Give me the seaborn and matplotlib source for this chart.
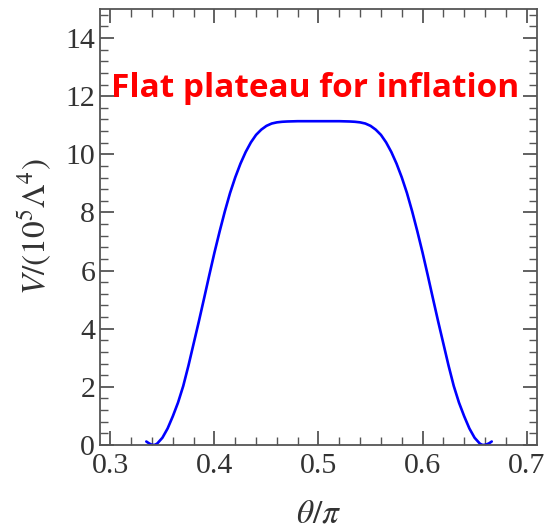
import numpy as np
import pandas as pd
import matplotlib
matplotlib.use("Agg")
import matplotlib.pyplot as plt
from matplotlib.ticker import MultipleLocator
import seaborn as sns

# Potential V(theta) in units of 10^5 Lambda^4, theta in units of pi
theta_left = [0.3345, 0.3370, 0.3390, 0.3410, 0.3430, 0.345, 0.350, 0.355, 0.360, 0.365,
              0.370, 0.375, 0.380, 0.385, 0.390, 0.395, 0.400, 0.405, 0.410, 0.415,
              0.420, 0.425, 0.430, 0.435, 0.440, 0.445, 0.450, 0.455, 0.460, 0.465,
              0.470]
v_left = [0.12, 0.06, 0.02, 0.00, 0.01, 0.05, 0.25, 0.57, 0.99, 1.46,
          2.03, 2.73, 3.49, 4.25, 5.04, 5.84, 6.62, 7.35, 8.04, 8.67,
          9.21, 9.68, 10.08, 10.41, 10.67, 10.85, 10.98, 11.06, 11.10, 11.12,
          11.13]

theta_mid = [0.480, 0.490, 0.500, 0.510, 0.520]
v_mid = [11.14, 11.14, 11.14, 11.14, 11.14]

theta_right = [0.530, 0.535, 0.540, 0.545, 0.550, 0.555, 0.560, 0.565, 0.570, 0.575,
               0.580, 0.585, 0.590, 0.595, 0.600, 0.605, 0.610, 0.615, 0.620, 0.625,
               0.630, 0.635, 0.640, 0.645, 0.650, 0.655, 0.657, 0.659, 0.6615, 0.6640,
               0.6665]
v_right = [11.13, 11.12, 11.10, 11.06, 10.98, 10.85, 10.67, 10.41, 10.08, 9.68,
           9.21, 8.67, 8.04, 7.35, 6.62, 5.84, 5.04, 4.25, 3.49, 2.73,
           2.03, 1.46, 0.99, 0.57, 0.25, 0.05, 0.01, 0.00, 0.02, 0.06,
           0.12]

x_ticks = [0.3, 0.4, 0.5, 0.6, 0.7]
y_ticks = [0, 2, 4, 6, 8, 10, 12, 14]

df = pd.DataFrame({
    "theta": theta_left + theta_mid + theta_right,
    "V": v_left + v_mid + v_right,
})

sns.set_theme(style="ticks")
plt.rcParams["font.family"] = ["Liberation Serif", "DejaVu Serif"]
plt.rcParams["mathtext.fontset"] = "stix"

fig = plt.figure(figsize=(5.46, 5.31), dpi=100)
ax = fig.add_axes([100 / 546, 1 - 445 / 531, 437 / 546, 436 / 531])

sns.lineplot(data=df, x="theta", y="V", ax=ax, color="#0000ff", lw=1.9,
             sort=False, estimator=None)

ax.set_xlim(0.29, 0.71)
ax.set_ylim(0, 15)
ax.set_xticks(x_ticks)
ax.set_yticks(y_ticks)
ax.set_xticklabels([f"{t:.1f}" for t in x_ticks])
ax.set_yticklabels([str(t) for t in y_ticks])
ax.xaxis.set_minor_locator(MultipleLocator(0.02))
ax.yaxis.set_minor_locator(MultipleLocator(0.4))

edge = "#555555"
for s in ax.spines.values():
    s.set_visible(True)
    s.set_color(edge)
    s.set_linewidth(1.3)

ax.tick_params(which="both", direction="in", top=True, right=True,
               color=edge, labelcolor="#333333")
ax.tick_params(which="major", length=10, width=1.3, labelsize=21.5)
ax.tick_params(axis="x", which="major", pad=6)
ax.tick_params(axis="y", which="major", pad=3.5)
ax.tick_params(which="minor", length=5.5, width=1.0)

ax.set_xlabel(r"$\theta/\pi$", fontsize=24, color="#333333", labelpad=14)
ax.set_ylabel(r"$V/(10^5\Lambda^4)$", fontsize=24, color="#333333", labelpad=8)

ax.text(0.4967, 12.25, "Flat plateau for inflation", color="#ff0000",
        fontsize=24, fontweight="bold", family=["Open Sans", "DejaVu Sans"],
        ha="center", va="center")

fig.savefig("out.png", dpi=100)
